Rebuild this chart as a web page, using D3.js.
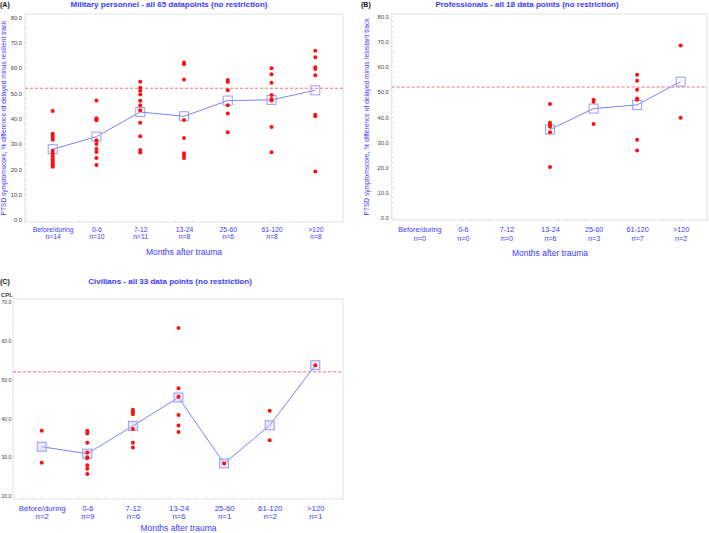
<!DOCTYPE html>
<html><head><meta charset="utf-8">
<script src="https://cdn.jsdelivr.net/npm/d3@7/dist/d3.min.js"></script>
<style>body{margin:0;background:#fff}svg{display:block;font-family:"Liberation Sans",Arial,sans-serif}</style>
</head><body><svg id="c" width="709" height="533"></svg>
<script>
const categories = ["Before/during","0-6","7-12","13-24","25-60","61-120",">120"];
const cutoff = 52;

// Panel A: military personnel
const militaryN = [14,10,11,8,6,8,8];
const militaryValues = [
  [43,34,33.3,32.5,31.7,27.3,26.5,25.7,24.9,24,23.2,22.3,21.5,21],
  [47.2,40.2,39.8,39.4,31.5,30,28,26.8,24.5,21.7],
  [54.6,52.2,51,49.5,47.1,45.3,43.3,38.4,33.1,27.6,26.6],
  [62.2,61.5,55.5,39.5,32.4,26.3,25.6,24.5],
  [55.3,54.5,51.2,45.3,42,34.6],
  [59.9,57.5,54.2,49.3,47.8,47.2,36.7,26.7],
  [66.8,64.2,60.3,59.6,57.1,41.5,40.9,19.1]
];
// Panel B: professionals
const professionalN = [0,0,0,6,3,7,2];
const professionalValues = [
  [],[],[],
  [45.3,37.8,37,36.2,34,20.2],
  [46.9,46.1,37.3],
  [56.9,54.5,50.9,47.4,46.9,31,26.7],
  [68.5,39.8]
];
// Panel C: civilians
const civilianN = [2,9,6,6,1,2,1];
const civilianValues = [
  [36.8,28.6],
  [36.8,36.1,33.7,31.2,30,29.7,27.9,27,25.7],
  [42.2,41.6,41.1,37.3,33.7,32.5],
  [63.3,47.8,45.6,40.9,38.2,36.5],
  [28.4],
  [42,34.4],
  [53.7]
];
const ticksAB = [0,10,20,30,40,50,60,70,80];
const ticksC = [20,30,40,50,60,70];

const svg = d3.select("#c");
const BLUE = "#3a3aff";

function panel(o){
  const g = svg.append("g");
  const x = d3.scalePoint().domain(categories).range(o.xr);
  const y = d3.scaleLinear().domain(o.yd).range(o.yr);
  const [L,R,T,B] = o.frame;
  g.append("rect").attr("x",L).attr("y",T).attr("width",R-L).attr("height",B-T)
    .attr("fill","none").attr("stroke","#e2e2e2").attr("stroke-width",1);
  const step = x.step();
  const minor = [];
  for(let i=-1;i<categories.length+1;i++){ for(let k=0;k<5;k++){ const px = o.xr[0]+ (i + k/5)*step; if(px>L && px<R) minor.push(px);} }
  g.selectAll(null).data(minor).join("line").attr("x1",d=>d).attr("x2",d=>d).attr("y1",B).attr("y2",B-2)
    .attr("stroke","#d8d8d8").attr("stroke-width",0.6);
  const yminor = d3.range(o.yd[0], o.yd[1]+0.01, 2);
  g.selectAll(null).data(yminor).join("line").attr("x1",L).attr("x2",L+2).attr("y1",d=>y(d)).attr("y2",d=>y(d))
    .attr("stroke","#d8d8d8").attr("stroke-width",0.6);
  const ya = g.append("g").attr("transform",`translate(${L},0)`)
    .call(d3.axisLeft(y).tickValues(o.ticks).tickFormat(d3.format(".1f")).tickSize(0).tickPadding(o.tickPad));
  ya.select(".domain").remove();
  ya.selectAll("text").attr("font-size",o.tickFont).attr("fill","#444").attr("font-family","Liberation Sans, Arial");
  const xa = g.append("g").attr("transform",`translate(0,${B})`)
    .call(d3.axisBottom(x).tickSize(0).tickFormat(""));
  xa.select(".domain").remove();
  xa.selectAll(".tick").each(function(d,i){
    const t = d3.select(this).append("text").attr("fill",BLUE).attr("font-size",o.catFont)
      .attr("text-anchor","middle").attr("font-family","Liberation Sans, Arial");
    t.append("tspan").attr("x",0).attr("y",o.catY1).text(d);
    t.append("tspan").attr("x",0).attr("y",o.catY2).text("n="+o.n[i]);
  });
  g.append("text").attr("x",(o.xr[0]+o.xr[1])/2).attr("y",o.xlabY).attr("text-anchor","middle")
    .attr("font-size",o.xlabFont).attr("fill",BLUE).text("Months after trauma");
  g.append("text").attr("x",o.titleX).attr("y",o.titleY).attr("text-anchor","middle")
    .attr("font-size",8).attr("font-weight","bold").attr("fill",BLUE).text(o.title);
  g.append("text").attr("x",o.tagX).attr("y",o.titleY).attr("font-size",7).attr("font-weight","bold")
    .attr("fill","#111").text(o.tag);
  if(o.ylab){
    g.append("text").attr("transform",`translate(${o.ylabX},${(T+B)/2}) rotate(-90)`)
      .attr("text-anchor","middle").attr("font-size",6.6).attr("fill",BLUE).text(o.ylab);
  }
  if(o.cpl){
    g.append("text").attr("x",1).attr("y",T-2.5).attr("font-size",6).attr("font-weight","bold").attr("fill","#444").text("CPL");
  }
  g.append("line").attr("x1",L).attr("x2",R).attr("y1",y(cutoff)).attr("y2",y(cutoff))
    .attr("stroke","#ff6060").attr("stroke-width",0.9).attr("stroke-dasharray","3,2");
  const means = categories.map((c,i)=>({c, v: o.values[i].length? d3.mean(o.values[i]) : null})).filter(d=>d.v!==null);
  g.append("path").datum(means).attr("fill","none").attr("stroke","#7f7fff").attr("stroke-width",1)
    .attr("d", d3.line().x(d=>x(d.c)).y(d=>y(d.v)));
  const s = o.sq;
  g.selectAll(null).data(means).join("rect").attr("x",d=>x(d.c)-s/2).attr("y",d=>y(d.v)-s/2)
    .attr("width",s).attr("height",s).attr("fill",o.sqFill).attr("stroke","#9a9af0").attr("stroke-width",1);
  const pts = [];
  o.values.forEach((arr,i)=>arr.forEach(v=>pts.push({c:categories[i],v})));
  g.selectAll(null).data(pts).join("circle").attr("cx",d=>x(d.c)).attr("cy",d=>y(d.v)).attr("r",2)
    .attr("fill","#ff1010");
}

panel({values:militaryValues,n:militaryN,xr:[52.7,315.3],yd:[0,80],yr:[220,17.3],frame:[25,343,14,222],
  ticks:ticksAB,tickFont:5.8,tickPad:3,catFont:6.8,catY1:9.5,catY2:17,xlabY:255,xlabFont:8.5,
  title:"Military personnel - all 65 datapoints (no restriction)",titleX:169,titleY:7,tag:"(A)",tagX:0,
  ylab:"PTSD symptomscore, % difference of delayed minus resilient track",ylabX:6,sq:9,sqFill:"none"});
panel({values:professionalValues,n:professionalN,xr:[419.3,680.7],yd:[0,80],yr:[217.7,16.7],frame:[391.7,707,14,220],
  ticks:ticksAB,tickFont:5.8,tickPad:3,catFont:7.2,catY1:12,catY2:20.5,xlabY:256,xlabFont:8.5,
  title:"Professionals - all 18 data points (no restriction)",titleX:527,titleY:7,tag:"(B)",tagX:361,
  ylab:"PTSD symptomscore, % difference of delayed minus resistant track",ylabX:369,sq:9,sqFill:"none"});
panel({values:civilianValues,n:civilianN,xr:[41.7,315.3],yd:[20,70],yr:[496,302],frame:[13,343,299,499],
  ticks:ticksC,tickFont:5.2,tickPad:1.5,catFont:7.8,catY1:11.5,catY2:19.5,xlabY:530.5,xlabFont:8.5,
  title:"Civilians - all 33 data points (no restriction)",titleX:170,titleY:284,tag:"(C)",tagX:0,
  ylab:null,cpl:true,sq:9,sqFill:"rgba(190,195,255,0.35)"});
</script></body></html>
